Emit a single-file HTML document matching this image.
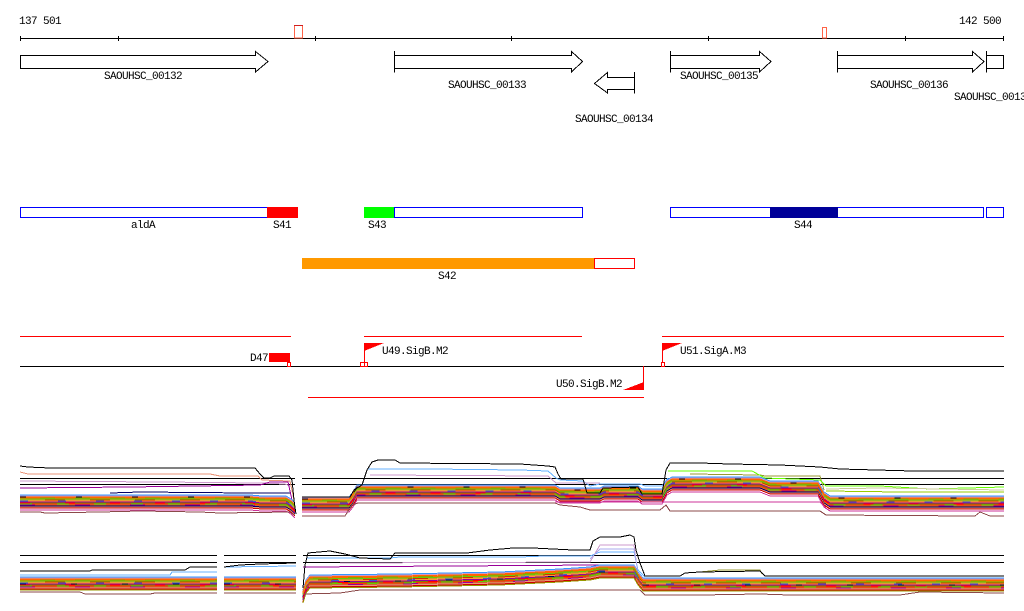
<!DOCTYPE html>
<html>
<head>
<meta charset="utf-8">
<style>
  html,body{margin:0;padding:0;background:#fff;}
  svg{display:block;}
  text{font-family:"Liberation Mono","DejaVu Sans Mono",monospace;font-size:11px;letter-spacing:-0.6px;fill:#000;}
</style>
</head>
<body>
<svg width="1024" height="611" viewBox="0 0 1024 611" xmlns="http://www.w3.org/2000/svg">
<rect x="0" y="0" width="1024" height="611" fill="#fff"/>
<defs>
  <path id="p1" fill="none" d="M20,495 L250,495 L262,496 L286,496 L291,499 L295,503 M302,497 L349,497 L353,492 L357,485 L555,485 L560,488 L600,488 L604,486 L638,486 L642,489 L662,489 L667,480 L672,477 L760,477 L770,481 L818,481 L824,492 L830,496 L1004,496"/>
  <path id="p2" fill="none" d="M20,577 L217,577 M224,577 L296,577 M303,590 L306,580 L310,575 L400,574 L500,572 L560,569 L590,567 L600,565 L634,565 L638,572 L643,578 L1004,578"/>
</defs>

<g shape-rendering="crispEdges">
<!-- ===== top axis ===== -->
<text x="19" y="24">137 501</text>
<text x="959" y="24">142 500</text>
<line x1="20" y1="38.5" x2="1004" y2="38.5" stroke="#000"/>
<g stroke="#000">
  <line x1="20.5" y1="36" x2="20.5" y2="41"/>
  <line x1="118.5" y1="36" x2="118.5" y2="41"/>
  <line x1="315.5" y1="36" x2="315.5" y2="41"/>
  <line x1="511.5" y1="36" x2="511.5" y2="41"/>
  <line x1="708.5" y1="36" x2="708.5" y2="41"/>
  <line x1="905.5" y1="36" x2="905.5" y2="41"/>
  <line x1="1003.5" y1="36" x2="1003.5" y2="41"/>
</g>
<rect x="294.5" y="25.5" width="8" height="12.5" fill="#fff" stroke="#FF6347"/>
<line x1="294" y1="25.5" x2="303" y2="25.5" stroke="#D02020"/>
<rect x="822.5" y="27.5" width="4" height="10.5" fill="#fff" stroke="#FF6347"/>

<!-- ===== genes ===== -->
<g fill="#fff" stroke="#000">
  <polygon points="20.5,55.5 255.5,55.5 255.5,51.5 268,61.5 255.5,72 255.5,68.5 20.5,68.5"/>
  <polygon points="394.5,55.5 571.5,55.5 571.5,51.5 582.5,61.5 571.5,72 571.5,68.5 394.5,68.5"/>
  <line x1="394.5" y1="51" x2="394.5" y2="72.5"/>
  <polygon points="634.5,77.5 607.5,77.5 607.5,72.5 594.5,83.5 607.5,93 607.5,89.5 634.5,89.5"/>
  <line x1="634.5" y1="72" x2="634.5" y2="93.5"/>
  <polygon points="670.5,55.5 759.5,55.5 759.5,51.5 771,61.5 759.5,72 759.5,68.5 670.5,68.5"/>
  <line x1="670.5" y1="51" x2="670.5" y2="72.5"/>
  <polygon points="837.5,55.5 972.5,55.5 972.5,51.5 984,61.5 972.5,72 972.5,68.5 837.5,68.5"/>
  <line x1="837.5" y1="51" x2="837.5" y2="72.5"/>
  <rect x="986.5" y="55.5" width="17" height="13"/>
  <line x1="986.5" y1="51" x2="986.5" y2="72.5"/>
</g>
<text x="104" y="79">SAOUHSC_00132</text>
<text x="448" y="88">SAOUHSC_00133</text>
<text x="575" y="122">SAOUHSC_00134</text>
<text x="680" y="79">SAOUHSC_00135</text>
<text x="870" y="88">SAOUHSC_00136</text>
<text x="954" y="100">SAOUHSC_00137</text>

<!-- ===== features ===== -->
<rect x="20.5" y="207.5" width="247" height="10" fill="#fff" stroke="#0000FF"/>
<rect x="267" y="207" width="31" height="11" fill="#FF0000"/>
<rect x="364" y="207" width="30" height="11" fill="#00FF00"/>
<rect x="394.5" y="207.5" width="188" height="10" fill="#fff" stroke="#0000FF"/>
<rect x="670.5" y="207.5" width="313" height="10" fill="#fff" stroke="#0000FF"/>
<rect x="770" y="207" width="68" height="11" fill="#000099"/>
<rect x="986.5" y="207.5" width="17" height="10" fill="#fff" stroke="#0000FF"/>
<text x="131" y="228">aldA</text>
<text x="273" y="228">S41</text>
<text x="368" y="228">S43</text>
<text x="794" y="228">S44</text>

<rect x="302" y="258" width="292" height="11" fill="#FF9900"/>
<rect x="594.5" y="258.5" width="40" height="10" fill="#fff" stroke="#FF0000"/>
<text x="438" y="279">S42</text>

<!-- ===== promoters / terminators ===== -->
<g stroke="#FF0000">
  <line x1="20" y1="336.5" x2="291" y2="336.5"/>
  <line x1="364" y1="336.5" x2="582" y2="336.5"/>
  <line x1="662" y1="336.5" x2="1004" y2="336.5"/>
  <line x1="308" y1="397.5" x2="644" y2="397.5"/>
</g>
<line x1="20" y1="366.5" x2="1004" y2="366.5" stroke="#000"/>

<text x="250" y="361">D47</text>
<rect x="269" y="353" width="21" height="9" fill="#FF0000"/>
<rect x="287.5" y="362.5" width="3" height="4" fill="#fff" stroke="#FF0000"/>

<line x1="364.5" y1="343" x2="364.5" y2="362" stroke="#FF0000"/>
<polygon points="364,343 384,343 364,351" fill="#FF0000"/>
<rect x="360.5" y="362.5" width="4" height="4" fill="#fff" stroke="#FF0000"/>
<rect x="364.5" y="362.5" width="3" height="4" fill="#fff" stroke="#FF0000"/>
<text x="382" y="354">U49.SigB.M2</text>

<line x1="662.5" y1="343" x2="662.5" y2="366" stroke="#FF0000"/>
<polygon points="662,343 682,343 662,351" fill="#FF0000"/>
<rect x="661.5" y="362.5" width="3" height="4" fill="#fff" stroke="#FF0000"/>
<text x="680" y="354">U51.SigA.M3</text>

<line x1="643.5" y1="366" x2="643.5" y2="390" stroke="#FF0000"/>
<polygon points="644,382 644,390 623,390" fill="#FF0000"/>
<text x="556" y="387">U50.SigB.M2</text>

<!-- ===== expression panel 1 ===== -->
<g fill="none" stroke-width="1">
  <path d="M20,478.5 L295,478.5 M302,478.5 L1004,478.5 M20,484.5 L295,484.5 M302,484.5 L1004,484.5" stroke="#000"/>
  <path d="M20,472 L28,474 L210,474 L220,476 L258,476 L262,480 L290,481 L294,500" stroke="#E9967A"/>
  <path d="M20,481 L160,482 L260,483 L285,484 L290,486" stroke="#CC99CC"/>
  <path d="M20,488 L130,487 L260,485 L270,482 L288,482 L292,500" stroke="#990099"/>
  <path d="M367,469 L430,469 L520,470 L548,471 L556,478 L560,480 L583,481 L590,486 L600,484 L640,484 L645,486 L662,486 L668,478" stroke="#66B2FF"/>
  <path d="M370,475 L548,476 L556,483 L600,483" stroke="#CC99CC"/>
  <path d="M690,474 L760,475 L765,476 L820,476 L824,490" stroke="#999933"/>
  <path d="M668,471 L752,471 L765,478 L820,480 L826,486 L880,486 L930,489 L1004,487" stroke="#66FF00"/>
  <path d="M826,491 L900,492 L1004,492" stroke="#99CC00"/>
  <path d="M826,489 L880,488 L1004,490" stroke="#CCCC99"/>
</g>
<g fill="none">
  <use href="#p1" y="0" stroke="#3399FF"/>
  <use href="#p1" y="1" stroke="#CC99CC"/>
  <use href="#p1" y="2" stroke="#FF6600"/>
  <use href="#p1" y="3" stroke="#999900"/>
  <use href="#p1" y="4" stroke="#66CC00"/>
  <use href="#p1" y="5" stroke="#CC3300"/>
  <use href="#p1" y="6" stroke="#FF9933"/>
  <use href="#p1" y="7" stroke="#990099"/>
  <use href="#p1" y="8" stroke="#808000"/>
  <use href="#p1" y="9" stroke="#FF3300"/>
  <use href="#p1" y="10" stroke="#CC6633"/>
  <use href="#p1" y="11" stroke="#000066"/>
  <use href="#p1" y="12" stroke="#E9967A"/>
  <use href="#p1" y="13" stroke="#CC0000"/>
  <use href="#p1" y="3" stroke="#FF6600" stroke-dasharray="20 15"/>
  <use href="#p1" y="6" stroke="#3366CC" stroke-dasharray="8 30"/>
  <use href="#p1" y="9" stroke="#66CC00" stroke-dasharray="12 25"/>
  <use href="#p1" y="10" stroke="#990099" stroke-dasharray="15 40"/>
  <use href="#p1" y="2" stroke="#000000" stroke-dasharray="6 50"/>
  <use href="#p1" y="5" stroke="#CC9933" stroke-dasharray="25 20"/>
  <use href="#p1" y="8" stroke="#FF0000" stroke-dasharray="10 35"/>
  <use href="#p1" y="15" stroke="#CC3399"/>
</g>
<g fill="none">
  <path d="M110,493 L140,492 L250,493 L290,493" stroke="#000066"/>
  <path d="M20,512 L40,512 L45,513 L100,512 L140,511 L200,512 L220,513 L290,512 L294,515 M302,516 L345,516 L352,505 L358,503 L555,503 L560,505 L580,507 L590,510 L660,510 L666,505 L670,511 L820,511 L826,515 L975,516 L980,512 L990,516 L1004,516" stroke="#8B4A4A"/>
  <path d="M555,502 L820,502 L826,508" stroke="#CC3399"/>
  <path d="M20,466 L28,467 L50,468 L255,468 L260,474 L264,478 L270,478 L274,476 L289,476 L292,480 L294,500 L296,514" stroke="#000"/>
  <path d="M302,497 L350,497 L354,490 L362,485 L367,470 L372,462 L378,460 L395,460 L400,463 L520,464 L548,466 L555,467 L558,474 L561,479 L583,479 L587,493 L600,493 L603,488 L638,487 L642,494 L662,494 L666,470 L670,463 L700,463 L730,464 L780,465 L820,467 L840,469 L913,471 L1004,471" stroke="#000"/>
</g>

<!-- ===== expression panel 2 ===== -->
<g fill="none">
  <path d="M20,555.5 L217,555.5 M224,555.5 L296,555.5 M303,555.5 L1004,555.5 M20,562.5 L217,562.5 M224,562.5 L296,562.5 M303,562.5 L1004,562.5" stroke="#000"/>
  <path d="M20,575 L170,575 L172,572 L217,572 M224,567 L296,566 M307,558 L390,558 L400,557 L520,557 L545,556 L590,556 L600,552 L634,552 L638,570 L645,577" stroke="#66B2FF"/>
  <path d="M340,563 L590,562 L600,545 L634,545 L638,575" stroke="#CC99CC"/>
  <path d="M590,559 L600,549 L634,549 L638,573" stroke="#AAAAEE"/>
  <path d="M303,567 L600,565" stroke="#990099"/>
  <path d="M700,572 L720,570 L760,570 L762,574" stroke="#999933"/>
</g>
<g fill="none">
  <use href="#p2" y="0" stroke="#3399FF"/>
  <use href="#p2" y="1" stroke="#CC99CC"/>
  <use href="#p2" y="2" stroke="#FF6600"/>
  <use href="#p2" y="3" stroke="#999900"/>
  <use href="#p2" y="4" stroke="#66CC00"/>
  <use href="#p2" y="5" stroke="#CC3300"/>
  <use href="#p2" y="6" stroke="#FF9933"/>
  <use href="#p2" y="7" stroke="#990099"/>
  <use href="#p2" y="8" stroke="#808000"/>
  <use href="#p2" y="9" stroke="#FF3300"/>
  <use href="#p2" y="10" stroke="#CC6633"/>
  <use href="#p2" y="11" stroke="#E9967A"/>
  <use href="#p2" y="12" stroke="#CC0000"/>
  <use href="#p2" y="13" stroke="#999900"/>
  <use href="#p2" y="3" stroke="#FF6600" stroke-dasharray="20 15"/>
  <use href="#p2" y="6" stroke="#3366CC" stroke-dasharray="8 30"/>
  <use href="#p2" y="9" stroke="#66CC00" stroke-dasharray="12 25"/>
  <use href="#p2" y="10" stroke="#990099" stroke-dasharray="15 40"/>
  <use href="#p2" y="7" stroke="#000066" stroke-dasharray="6 45"/>
  <use href="#p2" y="5" stroke="#CC9933" stroke-dasharray="25 20"/>
  <use href="#p2" y="8" stroke="#FF0000" stroke-dasharray="10 35"/>
</g>
<g fill="none">
  <path d="M20,592 L80,592 L85,594 L150,594 L155,593 L217,593 M224,593 L296,593 M303,594 L340,593 L360,590 L600,590 L640,590 L645,595 L700,595 L760,594 L790,595 L900,595 L920,592 L1004,593" stroke="#8B4A4A"/>
  <path d="M20,571 L90,571 L92,570 L185,570 L190,567 L217,567 M224,567 L240,565 L260,564 L296,563 M303,588 L305,565 L308,553 L330,551 L345,554 L360,558 L390,559 L395,553 L467,553 L490,550 L513,548 L533,548 L573,550 L590,550 L593,541 L600,537 L620,537 L630,535 L634,537 L636,550 L640,563 L645,576 L680,576 L685,573 L700,572 L760,571 L765,576 L1004,576" stroke="#000"/>
</g>
</g>
</svg>
</body>
</html>
